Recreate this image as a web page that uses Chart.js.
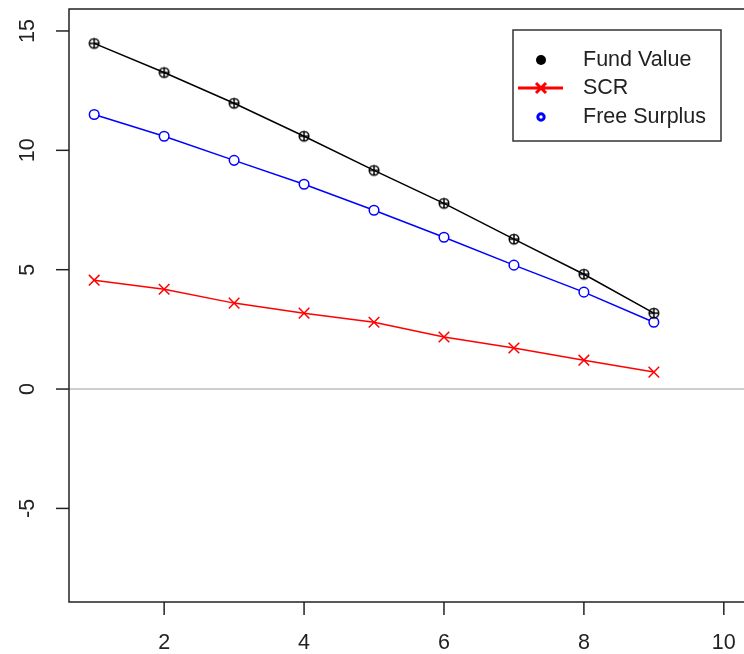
<!DOCTYPE html>
<html>
<head>
<meta charset="utf-8">
<script src="https://cdn.jsdelivr.net/npm/chart.js@4"></script>
<style>
  html, body { margin: 0; padding: 0; background: #fff; overflow: hidden; }
  #wrap { width: 760px; height: 654px; }
</style>
</head>
<body>
<div id="wrap"><canvas id="chart" width="760" height="654"></canvas></div>
<script>
// data
const years = [1, 2, 3, 4, 5, 6, 7, 8, 9];
const fundValue = [14.48, 13.26, 11.97, 10.59, 9.16, 7.78, 6.28, 4.81, 3.18];
const scr = [4.56, 4.18, 3.6, 3.18, 2.8, 2.18, 1.72, 1.21, 0.71];
const freeSurplus = [11.5, 10.59, 9.58, 8.58, 7.49, 6.36, 5.19, 4.06, 2.8];
const xTicks = [2, 4, 6, 8, 10];
const yTicks = [-5, 0, 5, 10, 15];
const legendLabels = ['Fund Value', 'SCR', 'Free Surplus'];

const FONT = '21.5px "Liberation Sans", Arial, sans-serif';

function pts(values) {
  return years.map((x, i) => ({ x: x, y: values[i] }));
}

// circle with a plus inside (R pch 10)
function circlePlus(color) {
  const c = document.createElement('canvas');
  c.width = 14; c.height = 14;
  const g = c.getContext('2d');
  g.strokeStyle = color;
  g.lineWidth = 1.5;
  g.beginPath();
  g.arc(7, 7, 4.8, 0, Math.PI * 2);
  g.moveTo(7, 1.6); g.lineTo(7, 12.4);
  g.moveTo(1.6, 7); g.lineTo(12.4, 7);
  g.stroke();
  return c;
}

const decorations = {
  id: 'decorations',
  beforeDatasetsDraw(chart) {
    const ctx = chart.ctx;
    const a = chart.chartArea;
    const y = chart.scales.y;
    // horizontal line at zero
    ctx.save();
    ctx.strokeStyle = '#bebebe';
    ctx.lineWidth = 1.5;
    ctx.beginPath();
    ctx.moveTo(a.left, y.getPixelForValue(0));
    ctx.lineTo(a.right, y.getPixelForValue(0));
    ctx.stroke();
    ctx.restore();
  },
  afterDraw(chart) {
    const ctx = chart.ctx;
    const a = chart.chartArea;
    const x = chart.scales.x;
    const y = chart.scales.y;
    ctx.save();
    // plot box
    ctx.strokeStyle = '#222';
    ctx.lineWidth = 1.5;
    ctx.strokeRect(a.left, a.top, a.right - a.left, a.bottom - a.top);

    ctx.font = FONT;
    ctx.fillStyle = '#222';
    // x axis ticks and labels
    ctx.textAlign = 'center';
    ctx.textBaseline = 'middle';
    xTicks.forEach(v => {
      const px = x.getPixelForValue(v);
      ctx.beginPath();
      ctx.moveTo(px, a.bottom);
      ctx.lineTo(px, a.bottom + 13);
      ctx.stroke();
      ctx.fillText(String(v), px, a.bottom + 41);
    });
    // y axis ticks and rotated labels
    yTicks.forEach(v => {
      const py = y.getPixelForValue(v);
      ctx.beginPath();
      ctx.moveTo(a.left, py);
      ctx.lineTo(a.left - 13, py);
      ctx.stroke();
      ctx.save();
      ctx.translate(a.left - 41, py);
      ctx.rotate(-Math.PI / 2);
      ctx.fillText(String(v), 0, 0);
      ctx.restore();
    });

    // legend
    const bx = 513, by = 30, bw = 208, bh = 111;
    ctx.strokeStyle = '#333';
    ctx.lineWidth = 1.5;
    ctx.fillStyle = '#fff';
    ctx.fillRect(bx, by, bw, bh);
    ctx.strokeRect(bx, by, bw, bh);
    const rows = [60, 88, 117];
    const sx = 541;
    // Fund Value: filled dot
    ctx.fillStyle = '#000';
    ctx.beginPath();
    ctx.arc(sx, rows[0], 5, 0, Math.PI * 2);
    ctx.fill();
    // SCR: thick red line with cross
    ctx.strokeStyle = '#ff0000';
    ctx.lineWidth = 3;
    ctx.beginPath();
    ctx.moveTo(518, rows[1]); ctx.lineTo(563, rows[1]);
    ctx.moveTo(sx - 5, rows[1] - 5); ctx.lineTo(sx + 5, rows[1] + 5);
    ctx.moveTo(sx - 5, rows[1] + 5); ctx.lineTo(sx + 5, rows[1] - 5);
    ctx.stroke();
    // Free Surplus: thick blue ring
    ctx.strokeStyle = '#0000ff';
    ctx.lineWidth = 3;
    ctx.beginPath();
    ctx.arc(sx, rows[2], 3.2, 0, Math.PI * 2);
    ctx.stroke();
    ctx.fillStyle = '#222';
    ctx.textAlign = 'left';
    legendLabels.forEach((t, i) => ctx.fillText(t, 583, rows[i]));
    ctx.restore();
  }
};

new Chart(document.getElementById('chart'), {
  type: 'line',
  data: {
    datasets: [
      {
        label: legendLabels[0],
        data: pts(fundValue),
        borderColor: '#000',
        borderWidth: 1.5,
        pointStyle: circlePlus('#000'),
        tension: 0
      },
      {
        label: legendLabels[1],
        data: pts(scr),
        borderColor: '#ff0000',
        borderWidth: 1.5,
        pointStyle: 'crossRot',
        pointRadius: 7.5,
        pointBorderColor: '#ff0000',
        pointBorderWidth: 1.5,
        tension: 0
      },
      {
        label: legendLabels[2],
        data: pts(freeSurplus),
        borderColor: '#0000ff',
        borderWidth: 1.5,
        pointStyle: 'circle',
        pointRadius: 4.8,
        pointBorderColor: '#0000ff',
        pointBackgroundColor: '#fff',
        pointBorderWidth: 1.5,
        tension: 0
      }
    ]
  },
  options: {
    responsive: false,
    animation: false,
    events: [],
    layout: { padding: { left: 69, top: 8, right: 11, bottom: 52 } },
    plugins: {
      legend: { display: false },
      tooltip: { enabled: false }
    },
    scales: {
      x: { type: 'linear', min: 0.64, max: 10.36, display: false },
      y: { type: 'linear', min: -8.92, max: 15.92, display: false }
    }
  },
  plugins: [decorations]
});
</script>
</body>
</html>
